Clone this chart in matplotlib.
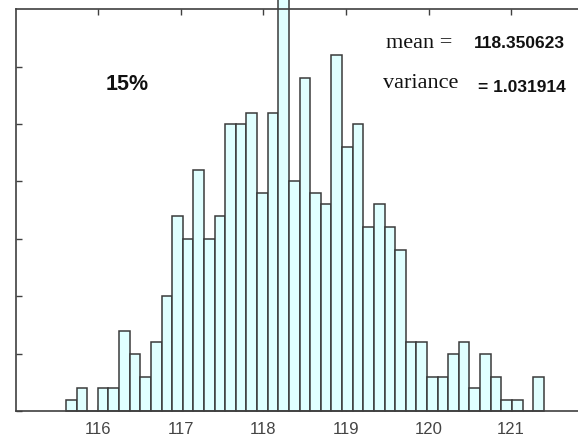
import matplotlib
matplotlib.use("Agg")
import matplotlib.pyplot as plt
import numpy as np

# Histogram data
bin_start = 115.6085
bin_width = 0.1286
counts = [1, 2, 0, 2, 2, 7, 5, 3, 6, 10,
          17, 15, 21, 15, 17, 25, 25, 26, 19, 26,
          36, 20, 29, 19, 18, 31, 23, 25, 16, 18,
          16, 14, 6, 6, 3, 3, 5, 6, 2, 5,
          3, 1, 1, 0, 3]
x_ticks = [116, 117, 118, 119, 120, 121]
y_ticks = [0, 5, 10, 15, 20, 25, 30]
label_pct = "15%"
mean_text = "118.350623"
var_text = "= 1.031914"

edges = bin_start + bin_width * np.arange(len(counts) + 1)

fig = plt.figure(figsize=(5.78, 4.39), dpi=100)
ax = fig.add_axes([0.0272, 0.0604, 0.9728, 0.9168])

ax.bar(edges[:-1], counts, width=bin_width, align="edge",
       color="#E0FFFF", edgecolor="#3a3a3a", linewidth=1.1, clip_on=False, zorder=2)

ax.set_xlim(115, 121.81)
ax.set_ylim(0, 35)
ax.set_xticks(x_ticks)
ax.set_xticklabels([str(t) for t in x_ticks], fontsize=12, color="#444444",
                   family=["Liberation Sans", "DejaVu Sans"])
ax.set_yticks(y_ticks)
ax.set_yticklabels([])
ax.tick_params(direction="in", length=4, width=1, color="#404040",
               top=True, right=False, pad=7)
for s in ["left", "top", "bottom"]:
    ax.spines[s].set_color("#404040")
    ax.spines[s].set_linewidth(1.2)
ax.spines["right"].set_visible(False)


def fx(px):
    return px / 578.0


def fy(py):
    return 1 - py / 439.0


fig.text(fx(127), fy(85), label_pct, ha="center", va="center", fontsize=15.5,
         fontweight="bold", family=["Liberation Sans", "DejaVu Sans"], color="#111111")
fig.text(fx(419), fy(44), "mean =", ha="center", va="center", fontsize=16,
         family=["Liberation Serif", "DejaVu Serif"], color="#111111")
fig.text(fx(519), fy(43), mean_text, ha="center", va="center", fontsize=12.5,
         fontweight="bold", family=["Liberation Sans Narrow", "Liberation Sans", "DejaVu Sans"],
         color="#111111")
fig.text(fx(421), fy(83), "variance", ha="center", va="center", fontsize=16,
         family=["Liberation Serif", "DejaVu Serif"], color="#111111")
fig.text(fx(522), fy(88), var_text, ha="center", va="center", fontsize=12.5,
         fontweight="bold", family=["Liberation Sans Narrow", "Liberation Sans", "DejaVu Sans"],
         color="#111111")

fig.savefig("out.png", dpi=100)
